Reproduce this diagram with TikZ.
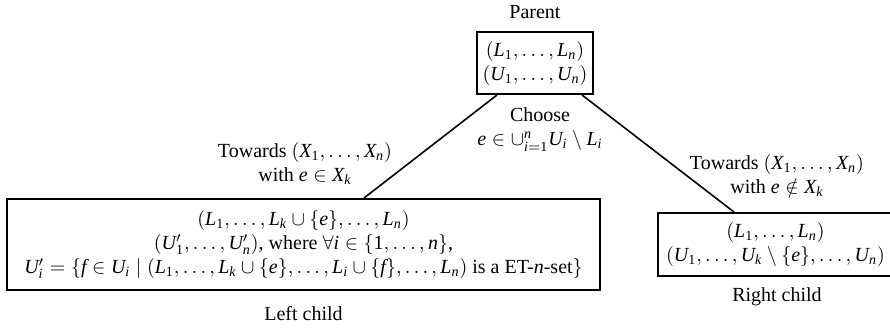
\documentclass[tikz,border=0pt]{standalone}
\usepackage{mathspec}
\setmainfont{Liberation Serif}
\setmathsfont(Digits,Latin){Liberation Serif}
\usetikzlibrary{calc}
\begin{document}
\begin{tikzpicture}[x=0.5pt,y=-0.5pt,
  box/.style={draw,line width=1pt,align=center,inner sep=0pt},
  lbl/.style={align=center,inner sep=0pt},
  edge/.style={line width=0.8pt}]
\useasboundingbox (0,0) rectangle (890,328);
\node[lbl] (ptitle) at (535,12) {Parent};
\node[box,minimum width=58pt,minimum height=31pt] (parent) at (535,63)
  {$(L_1,\dots,L_n)$\\$(U_1,\dots,U_n)$};
\node[lbl] (choose) at (540,129.5) {Choose\\$e\in\cup_{i=1}^{n}U_i\setminus L_i$};
\node[lbl] (ltow) at (305,163) {Towards $(X_1,\dots,X_n)$\\with $e\in X_k$};
\node[lbl] (rtow) at (777,175) {Towards $(X_1,\dots,X_n)$\\with $e\notin X_k$};
\node[box,minimum width=296.5pt,minimum height=45.5pt] (left) at (303.5,244.5)
  {$(L_1,\dots,L_k\cup\{e\},\dots,L_n)$\\
   $(U'_1,\dots,U'_n)$, where $\forall i\in\{1,\dots,n\}$,\\
   $U'_i=\{f\in U_i\mid (L_1,\dots,L_k\cup\{e\},\dots,L_i\cup\{f\},\dots,L_n)$ is a ET-$n$-set$\}$};
\node[box,minimum width=117.5pt,minimum height=31.5pt] (right) at (775.5,244.5)
  {$(L_1,\dots,L_n)$\\$(U_1,\dots,U_k\setminus\{e\},\dots,U_n)$};
\node[lbl] (lchild) at (303.5,314) {Left child};
\node[lbl] (rchild) at (777,297) {Right child};
\draw[edge] ($(parent.south west)+(21,0)$) -- ($(left.north west)+(358,0)$);
\draw[edge] ($(parent.south west)+(106,0)$) -- ($(right.north west)+(77,0)$);
\end{tikzpicture}
\end{document}
